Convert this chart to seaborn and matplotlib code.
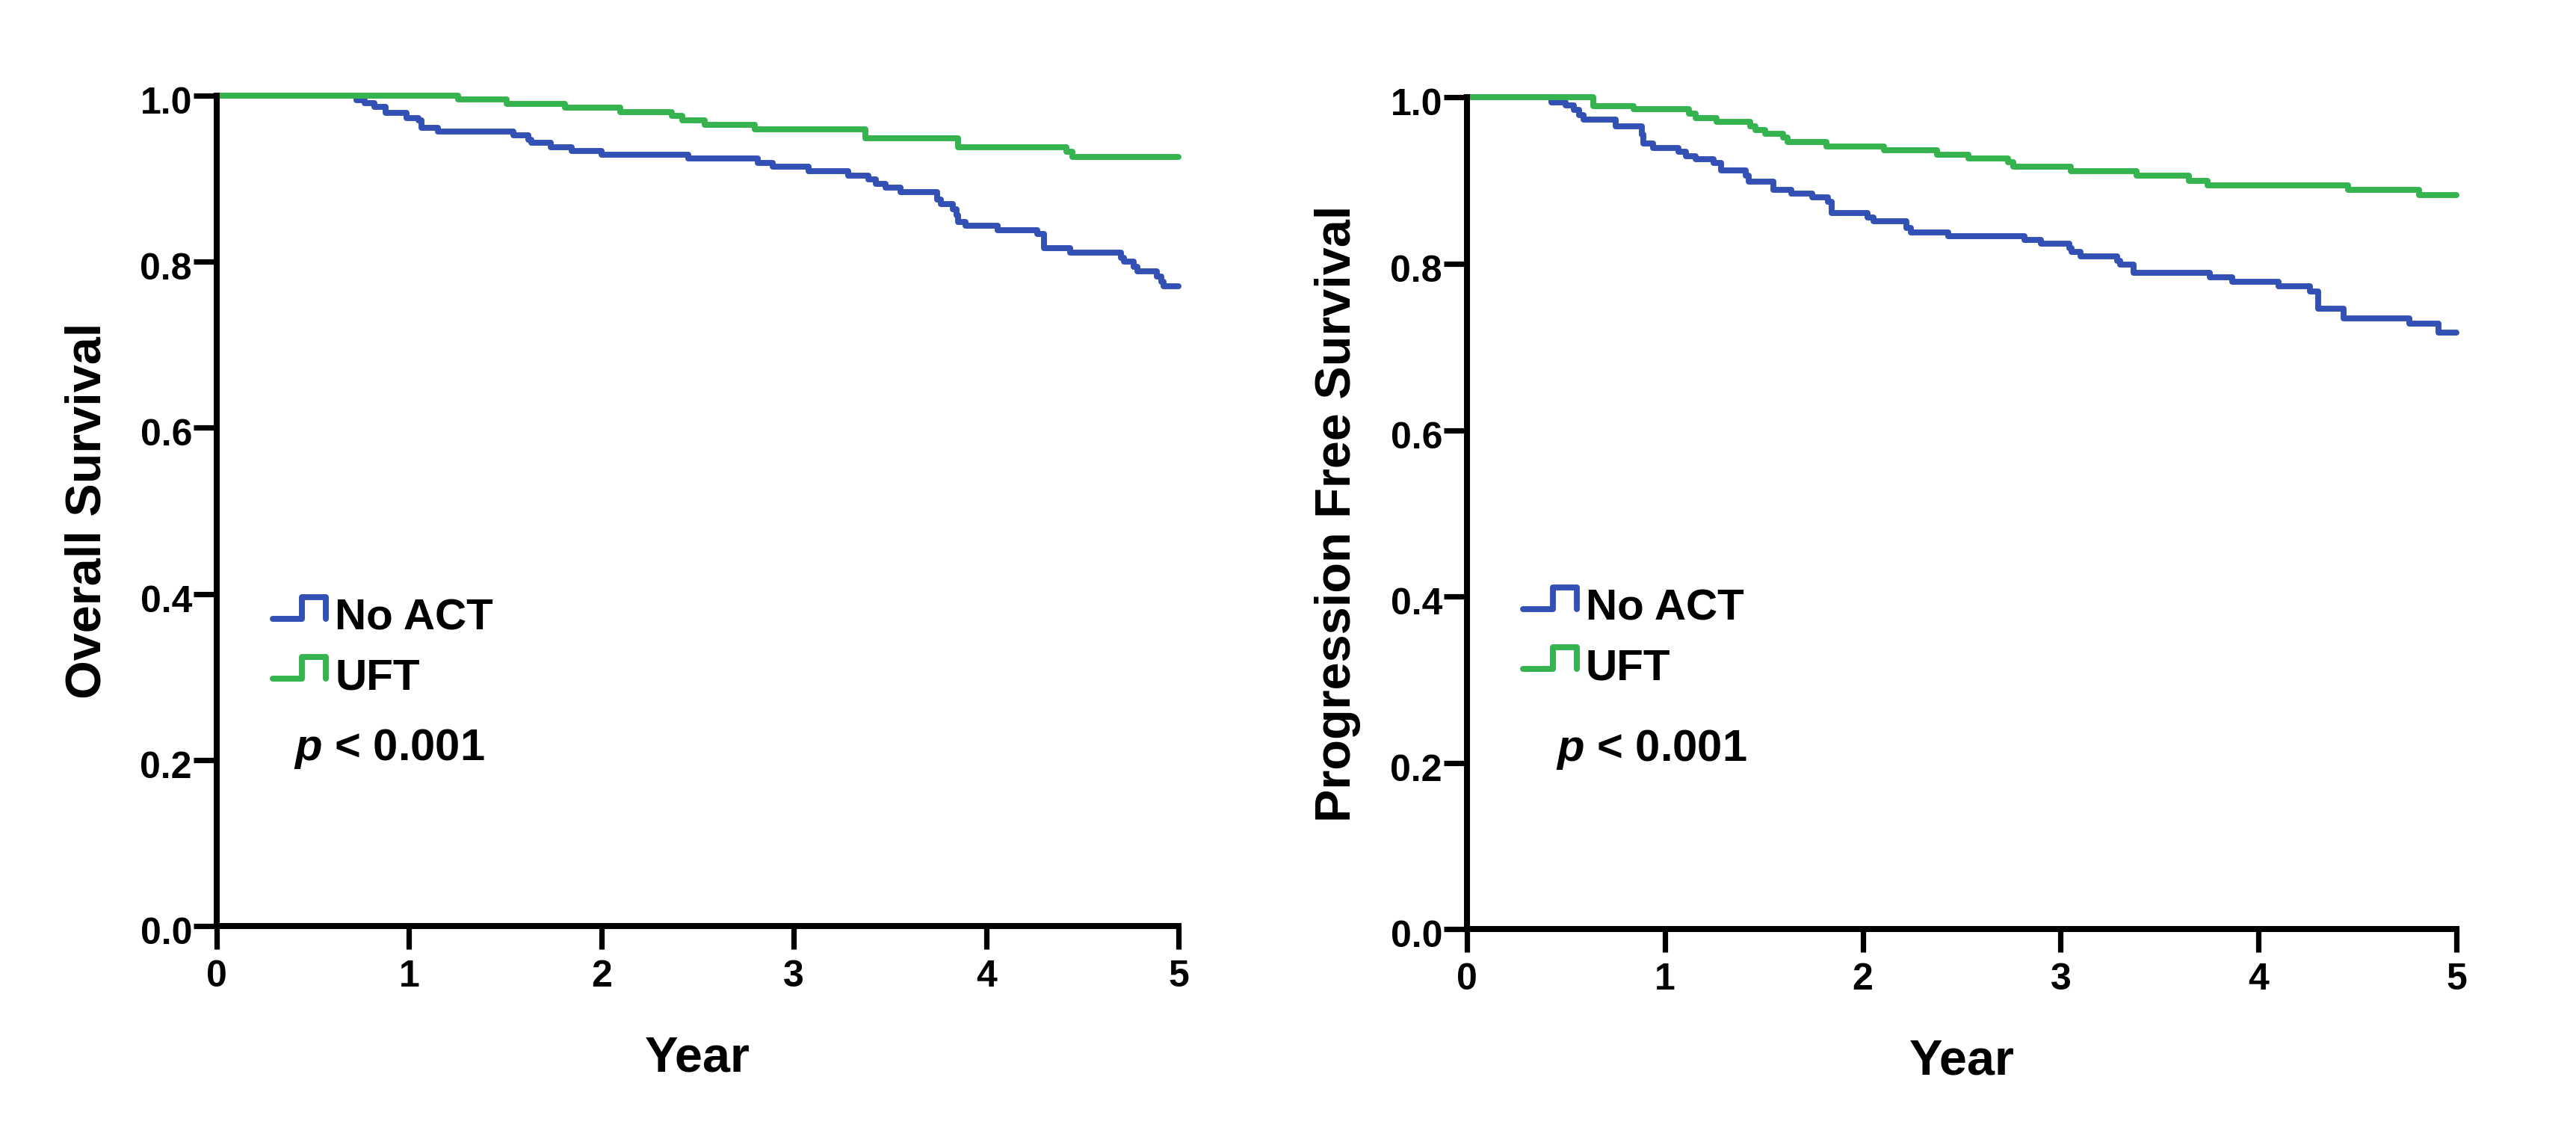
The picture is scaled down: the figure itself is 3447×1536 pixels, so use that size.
import matplotlib
matplotlib.use("Agg")
import matplotlib.pyplot as plt
import matplotlib.transforms as mtransforms
import seaborn as sns
import pandas as pd
import numpy as np
from matplotlib.legend_handler import HandlerBase
from matplotlib.lines import Line2D

# ---------------- data ----------------
groups = ["No ACT", "UFT"]
colors = {"No ACT": "#3350B5", "UFT": "#35B34F"}

os_noact_t = [0, 0.727, 0.77, 0.82, 0.879, 0.988, 1.047, 1.064, 1.148, 1.544, 1.62, 1.637,
              1.738, 1.847, 1.999, 2.45, 2.812, 2.889, 3.077, 3.281, 3.386, 3.428, 3.475,
              3.554, 3.743, 3.766, 3.827, 3.845, 3.855, 3.894, 4.061, 4.265, 4.299, 4.438,
              4.70, 4.717, 4.767, 4.784, 4.885, 4.91, 4.922, 5.0]
os_noact_s = [1.0, 0.995, 0.991, 0.9865, 0.979, 0.973, 0.970, 0.961, 0.9565, 0.952, 0.947, 0.943,
              0.938, 0.933, 0.929, 0.924, 0.919, 0.914, 0.909, 0.904, 0.899, 0.894, 0.889,
              0.884, 0.875, 0.869, 0.863, 0.856, 0.848, 0.843, 0.838, 0.833, 0.816, 0.811,
              0.805, 0.800, 0.794, 0.788, 0.782, 0.776, 0.770, 0.770]

os_uft_t = [0, 1.254, 1.507, 1.81, 2.097, 2.366, 2.42, 2.538, 2.797, 3.37, 3.855, 4.416, 4.449, 5.0]
os_uft_s = [1.0, 0.9955, 0.990, 0.9856, 0.9805, 0.9754, 0.9706, 0.965, 0.959, 0.949, 0.938, 0.932, 0.926, 0.926]

pfs_noact_t = [0, 0.426, 0.50, 0.54, 0.565, 0.59, 0.75, 0.884, 0.89, 0.942, 1.068, 1.105,
               1.155, 1.245, 1.286, 1.408, 1.425, 1.548, 1.638, 1.744, 1.826, 1.842, 2.023,
               2.055, 2.219, 2.243, 2.432, 2.819, 2.899, 3.044, 3.055, 3.102, 3.286, 3.30,
               3.369, 3.753, 3.866, 4.103, 4.261, 4.303, 4.428, 4.761, 4.911, 5.0]
pfs_noact_s = [1.0, 0.994, 0.9906, 0.985, 0.979, 0.9737, 0.965, 0.955, 0.9445, 0.939, 0.9345, 0.929,
               0.9254, 0.921, 0.912, 0.906, 0.899, 0.889, 0.8847, 0.8796, 0.875, 0.8615, 0.856,
               0.851, 0.8435, 0.8375, 0.833, 0.829, 0.824, 0.819, 0.814, 0.809, 0.804, 0.799,
               0.789, 0.784, 0.7788, 0.7733, 0.767, 0.746, 0.734, 0.728, 0.717, 0.717]

pfs_uft_t = [0, 0.639, 0.843, 1.122, 1.155, 1.261, 1.433, 1.457, 1.507, 1.597, 1.621, 1.818,
             2.109, 2.375, 2.536, 2.736, 2.761, 3.052, 3.383, 3.649, 3.741, 4.453, 4.811, 5.0]
pfs_uft_s = [1.0, 0.990, 0.986, 0.981, 0.9755, 0.9707, 0.9656, 0.9605, 0.956, 0.9514, 0.9465, 0.9414,
             0.9363, 0.931, 0.927, 0.922, 0.9165, 0.911, 0.906, 0.900, 0.8946, 0.889, 0.883, 0.883]

x_ticks = [0, 1, 2, 3, 4, 5]
y_ticks = [0.0, 0.2, 0.4, 0.6, 0.8, 1.0]
y_tick_labels = ["0.0", "0.2", "0.4", "0.6", "0.8", "1.0"]
panel_ylabels = ["Overall Survival", "Progression Free Survival"]
x_label = "Year"
p_text = r"$p$ < 0.001"

# ---------------- style ----------------
sns.set_style("ticks")
plt.rcParams["font.family"] = ["Liberation Sans", "DejaVu Sans"]
plt.rcParams["font.weight"] = "bold"
plt.rcParams["mathtext.fontset"] = "custom"
plt.rcParams["mathtext.it"] = "Liberation Sans:italic:bold"
plt.rcParams["mathtext.rm"] = "Liberation Sans:bold"
plt.rcParams["text.color"] = "black"
plt.rcParams["axes.labelcolor"] = "black"
plt.rcParams["xtick.color"] = "black"
plt.rcParams["ytick.color"] = "black"

LW = 2.85
SPINE_W = 2.9


def make_df(t_a, s_a, t_b, s_b):
    return pd.concat([
        pd.DataFrame({"Year": t_a, "Survival": s_a, "Group": groups[0]}),
        pd.DataFrame({"Year": t_b, "Survival": s_b, "Group": groups[1]}),
    ], ignore_index=True)


class StepHandler(HandlerBase):
    def create_artists(self, legend, orig_handle, xdescent, ydescent,
                       width, height, fontsize, trans):
        xs = np.array([0.0, 0.55, 0.55, 1.0, 1.0]) * width - xdescent
        ys = np.array([0.35, 0.35, 1.05, 1.05, 0.35]) * height - ydescent
        ln = Line2D(xs, ys, color=orig_handle.get_color(),
                    linewidth=orig_handle.get_linewidth(),
                    solid_capstyle="round", solid_joinstyle="round")
        ln.set_transform(trans)
        return [ln]


fig = plt.figure(figsize=(17.24, 7.68), dpi=200)
axes = [fig.add_axes([0.0841, 0.1934, 0.3733, 0.7233]),
        fig.add_axes([0.5693, 0.1905, 0.3840, 0.7246])]

dfs = [make_df(os_noact_t, os_noact_s, os_uft_t, os_uft_s),
       make_df(pfs_noact_t, pfs_noact_s, pfs_uft_t, pfs_uft_s)]
legend_anchor = [(0.058, 0.395), (0.057, 0.41)]
p_pos = [(0.080, 0.200), (0.090, 0.2026)]

for ax, df, ylab, anc, pp in zip(axes, dfs, panel_ylabels, legend_anchor, p_pos):
    sns.lineplot(data=df, x="Year", y="Survival", hue="Group", palette=colors,
                 estimator=None, sort=False, drawstyle="steps-post",
                 linewidth=LW, legend=False, ax=ax, clip_on=False,
                 solid_capstyle="round", solid_joinstyle="round")
    ax.set_xlim(0, 5)
    ax.set_ylim(0, 1.0)
    ax.set_xticks(x_ticks)
    ax.set_xticklabels([str(v) for v in x_ticks])
    ax.set_yticks(y_ticks)
    ax.set_yticklabels(y_tick_labels)
    sns.despine(ax=ax)
    for s in ["left", "bottom"]:
        ax.spines[s].set_linewidth(SPINE_W)
        ax.spines[s].set_color("black")
    ax.tick_params(axis="both", direction="out", length=11.2, width=2.6,
                   labelsize=18)
    ax.tick_params(axis="y", pad=0.7)
    ax.tick_params(axis="x", pad=5)
    off = mtransforms.ScaledTranslation(0, -6 / 200, fig.dpi_scale_trans)
    for lab in ax.get_yticklabels():
        lab.set_transform(lab.get_transform() + off)
        lab.set_fontweight("bold")
    for lab in ax.get_xticklabels():
        lab.set_fontweight("bold")
    ax.set_ylabel(ylab, fontsize=24, fontweight="bold", labelpad=14)
    ax.set_xlabel(x_label, fontsize=24, fontweight="bold", labelpad=20)

    handles = [Line2D([], [], color=colors[g], linewidth=LW) for g in groups]
    ax.legend(handles, groups, handler_map={Line2D: StepHandler()},
              loc="upper left", bbox_to_anchor=anc, frameon=False,
              borderpad=0, borderaxespad=0, handlelength=1.23,
              handletextpad=0.2, labelspacing=0.45,
              prop={"size": 21, "weight": "bold"})
    ax.text(pp[0], pp[1], p_text, transform=ax.transAxes, fontsize=21.5,
            fontweight="bold", ha="left", va="baseline")

fig.savefig("out.png", dpi=200)
